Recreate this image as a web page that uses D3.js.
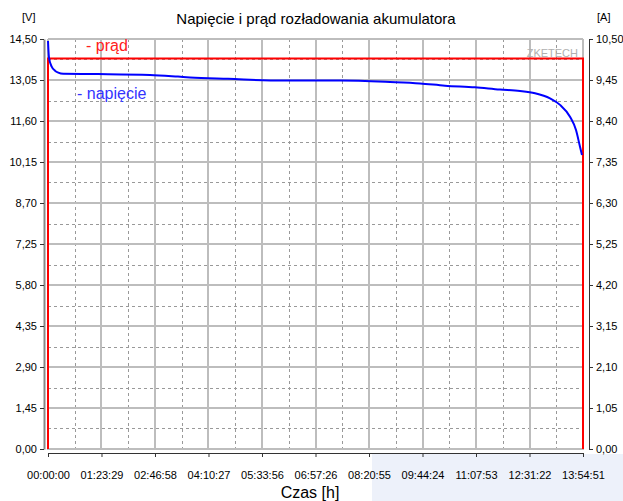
<!DOCTYPE html>
<html>
<head>
<meta charset="utf-8">
<script src="https://cdn.jsdelivr.net/npm/d3@7"></script>
<style>
  body { margin: 0; background: #fff; }
  svg { display: block; font-family: "Liberation Sans", Arial, sans-serif; }
  .tick text { font-size: 11px; fill: #000; }
</style>
</head>
<body>
<svg width="623" height="501"></svg>
<script>
// tick labels
var timeTicks = ["00:00:00", "01:23:29", "02:46:58", "04:10:27", "05:33:56", "06:57:26",
                 "08:20:55", "09:44:24", "11:07:53", "12:31:22", "13:54:51"];
var voltTicks = ["0,00", "1,45", "2,90", "4,35", "5,80", "7,25", "8,70", "10,15", "11,60", "13,05", "14,50"];
var ampTicks  = ["0,00", "1,05", "2,10", "3,15", "4,20", "5,25", "6,30", "7,35", "8,40", "9,45", "10,50"];

// voltage curve [s], [V]
var voltTime = [0, 94, 346, 655, 964, 1433, 4681, 9550, 12172, 13295, 16853, 22003, 27340,
                32021, 34830, 37171, 39980, 42321, 44193, 45598, 47002, 47938, 48874, 49436, 49810, 49997];
var voltVal  = [14.43, 13.83, 13.52, 13.38, 13.31, 13.27, 13.26, 13.23, 13.17, 13.14, 13.09, 13.03, 13.03,
                12.98, 12.93, 12.85, 12.79, 12.71, 12.66, 12.58, 12.40, 12.17, 11.75, 11.28, 10.69, 10.40];

// current [s], [A]
var ampTime = [0, 0, 50091, 50091];
var ampVal  = [0, 10.0, 10.0, 0];

function toSec(s) {
  var p = s.split(":").map(Number);
  return p[0] * 3600 + p[1] * 60 + p[2];
}
function toNum(s) { return +s.replace(",", "."); }

var svg = d3.select("svg");
var pL = 48, pR = 583, pT = 39, pB = 449;

var x = d3.scaleLinear().domain([0, toSec(timeTicks[timeTicks.length - 1])]).range([pL, pR]);
var yV = d3.scaleLinear().domain([0, 14.5]).range([pB, pT]);
var yA = d3.scaleLinear().domain([0, 10.5]).range([pB, pT]);

var xs = timeTicks.map(toSec);
var vs = voltTicks.map(toNum);

// light blue patch bottom right
svg.append("rect").attr("x", 372).attr("y", 454).attr("width", 251).attr("height", 47).attr("fill", "#edf1fa");

// grid
var grid = svg.append("g");
var xMid = xs.slice(1).map(function(d, i) { return (d + xs[i]) / 2; });
var vMid = vs.slice(1).map(function(d, i) { return (d + vs[i]) / 2; });

grid.selectAll(".vd").data(xMid).enter().append("line")
    .attr("x1", function(d) { return Math.round(x(d)) + 0.5; })
    .attr("x2", function(d) { return Math.round(x(d)) + 0.5; })
    .attr("y1", pT).attr("y2", pB)
    .attr("stroke", "#999").attr("stroke-dasharray", "3,3");
grid.selectAll(".hd").data(vMid).enter().append("line")
    .attr("y1", function(d) { return Math.round(yV(d)) + 0.5; })
    .attr("y2", function(d) { return Math.round(yV(d)) + 0.5; })
    .attr("x1", pL).attr("x2", pR)
    .attr("stroke", "#999").attr("stroke-dasharray", "3,3");
grid.selectAll(".v").data(xs).enter().append("line")
    .attr("x1", function(d) { return Math.round(x(d)); })
    .attr("x2", function(d) { return Math.round(x(d)); })
    .attr("y1", pT).attr("y2", pB + 1)
    .attr("stroke", "#bdbdbd").attr("stroke-width", 2);
grid.selectAll(".h").data(vs).enter().append("line")
    .attr("y1", function(d) { return Math.round(yV(d)); })
    .attr("y2", function(d) { return Math.round(yV(d)); })
    .attr("x1", pL).attr("x2", pR)
    .attr("stroke", "#bdbdbd").attr("stroke-width", 2);

// axes
var axL = svg.append("g").attr("transform", "translate(44,0)")
    .call(d3.axisLeft(yV).tickValues(vs).tickFormat(function(d, i) { return voltTicks[i]; }).tickSize(4).tickSizeOuter(0));
axL.select(".domain").attr("stroke", "#888").attr("stroke-width", 2);

var axR = svg.append("g").attr("transform", "translate(589,0)")
    .call(d3.axisRight(yA).tickValues(ampTicks.map(toNum)).tickFormat(function(d, i) { return ampTicks[i]; }).tickSize(4).tickSizeOuter(0));
axR.select(".domain").attr("stroke", "#333");

var axB = svg.append("g").attr("transform", "translate(0,453)")
    .call(d3.axisBottom(x).tickValues(xs).tickFormat(function(d, i) { return timeTicks[i]; }).tickSize(4).tickSizeOuter(0));
axB.select(".domain").attr("stroke", "#333");
axB.selectAll(".tick text").attr("dy", "1.7em");

svg.selectAll(".tick line").attr("stroke", "#333");

// watermark
svg.append("text").attr("x", 578).attr("y", 57).attr("text-anchor", "end")
    .attr("font-size", 11).attr("fill", "#b0b0b0").text("ZKETECH");

// series
var line = d3.line();
svg.append("path")
    .attr("d", line(ampTime.map(function(t, i) { return [x(t), yA(ampVal[i])]; })))
    .attr("fill", "none").attr("stroke", "#ff0000").attr("stroke-width", 2);
svg.append("path")
    .attr("d", d3.line().curve(d3.curveMonotoneX)(voltTime.map(function(t, i) { return [x(t), yV(voltVal[i])]; })))
    .attr("fill", "none").attr("stroke", "#0000ff").attr("stroke-width", 2);

// texts
svg.append("text").attr("x", 316).attr("y", 24).attr("text-anchor", "middle")
    .attr("font-size", 15).text("Napięcie i prąd rozładowania akumulatora");
svg.append("text").attr("x", 22).attr("y", 21).attr("font-size", 11).text("[V]");
svg.append("text").attr("x", 597).attr("y", 21).attr("font-size", 11).text("[A]");
svg.append("text").attr("x", 310).attr("y", 498).attr("text-anchor", "middle")
    .attr("font-size", 16).text("Czas [h]");
svg.append("text").attr("x", 86).attr("y", 51).attr("font-size", 16).attr("fill", "#ff2020").text("- prąd");
svg.append("text").attr("x", 77).attr("y", 99).attr("font-size", 16).attr("fill", "#3333ff").text("- napięcie");
</script>
</body>
</html>
